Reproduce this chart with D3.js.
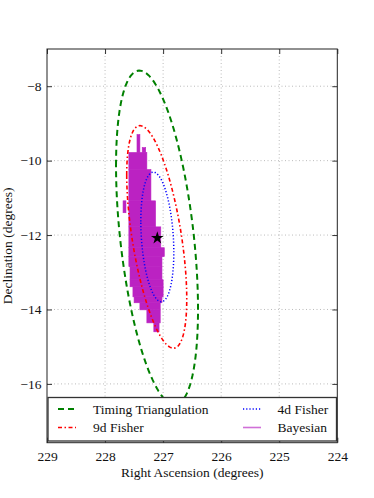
<!DOCTYPE html>
<html>
<head>
<meta charset="utf-8">
<script src="https://cdn.jsdelivr.net/npm/d3@7"></script>
<style>
  body { margin: 0; background: #fff; }
  text { font-family: "Liberation Serif", "DejaVu Serif", serif; }
</style>
</head>
<body>
<div id="chart"></div>
<script>
const raTicks = [229, 228, 227, 226, 225, 224];
const decTicks = [-8, -10, -12, -14, -16];

// true source position
const sourceRa = 227.10;
const sourceDec = -12.08;

// error ellipses: centre, half extents along RA / Dec, correlation
const ellipseNames = ["Timing Triangulation", "9d Fisher", "4d Fisher"];
const ellipseRa0 = [227.105, 227.11, 227.10];
const ellipseDec0 = [-12.07, -12.05, -12.05];
const ellipseRaHalf = [0.706, 0.517, 0.284];
const ellipseDecHalf = [4.49, 2.99, 1.74];
const ellipseRho = [0.43, 0.557, 0.24];
const ellipseColors = ["#008000", "#ff0000", "#0000ff"];
const ellipseDash = ["6,4", "4,2.5,1.5,2.5", "1.2,2"];
const ellipseWidth = [2, 1.6, 1.5];

// Bayesian posterior region, blocky bins (dec high/low, ra high/low)
const bayesDecHi = [-9.30, -9.65, -9.78, -10.24, -11.08, -11.08, -11.78, -12.34, -12.58, -12.85, -13.20, -13.39, -13.66, -13.82, -14.01, -14.36];
const bayesDecLo = [-9.78, -9.78, -10.24, -11.08, -11.40, -11.78, -12.34, -12.58, -12.85, -13.20, -13.39, -13.66, -13.82, -14.01, -14.36, -14.60];
const bayesRaHi = [227.45, 227.36, 227.59, 227.59, 227.69, 227.59, 227.59, 227.59, 227.59, 227.57, 227.57, 227.52, 227.50, 227.40, 227.28, 227.16];
const bayesRaLo = [227.40, 227.30, 227.28, 227.21, 227.64, 227.13, 227.04, 226.98, 227.02, 227.02, 227.00, 227.00, 227.02, 227.05, 227.05, 227.07];
const bayesColor = "#bb22c2";

const width = 374, height = 498;
const plotLeft = 47, plotRight = 337.3, plotTop = 49, plotBottom = 442.7;

const x = d3.scaleLinear().domain([229, 224]).range([plotLeft, plotRight]);
const y = d3.scaleLinear().domain([-7, -17.58]).range([plotTop, plotBottom]);

const svg = d3.select("#chart").append("svg")
    .attr("width", width)
    .attr("height", height);

svg.append("defs").append("clipPath")
    .attr("id", "plot-clip")
    .append("rect")
    .attr("x", plotLeft).attr("y", plotTop)
    .attr("width", plotRight - plotLeft).attr("height", plotBottom - plotTop);

// grid
const grid = svg.append("g")
    .attr("stroke", "#aaa")
    .attr("stroke-width", 0.8)
    .attr("stroke-dasharray", "1,2.5");
grid.selectAll("line.gx")
    .data(raTicks.slice(1, -1))
    .enter().append("line")
    .attr("x1", d => x(d)).attr("x2", d => x(d))
    .attr("y1", plotTop).attr("y2", plotBottom);
grid.selectAll("line.gy")
    .data(decTicks)
    .enter().append("line")
    .attr("x1", plotLeft).attr("x2", plotRight)
    .attr("y1", d => y(d)).attr("y2", d => y(d));

const plot = svg.append("g").attr("clip-path", "url(#plot-clip)");

// Bayesian bins
const bins = bayesDecHi.map((d, i) => ({
    decHi: d, decLo: bayesDecLo[i], raHi: bayesRaHi[i], raLo: bayesRaLo[i]
}));
plot.append("g")
    .selectAll("rect")
    .data(bins)
    .enter().append("rect")
    .attr("x", d => x(d.raHi))
    .attr("y", d => y(d.decHi))
    .attr("width", d => x(d.raLo) - x(d.raHi))
    .attr("height", d => y(d.decLo) - y(d.decHi))
    .attr("fill", bayesColor)
    .attr("stroke", bayesColor)
    .attr("stroke-width", 0.6);

// ellipses
const line = d3.line().x(d => x(d[0])).y(d => y(d[1]));
const angles = d3.range(0, 361, 2).map(a => a * Math.PI / 180);

ellipseNames.forEach((name, i) => {
    const r = ellipseRho[i];
    const pts = angles.map(t => [
        ellipseRa0[i] + ellipseRaHalf[i] * Math.cos(t),
        ellipseDec0[i] + ellipseDecHalf[i] * (r * Math.cos(t) + Math.sqrt(1 - r * r) * Math.sin(t))
    ]);
    plot.append("path")
        .attr("d", line(pts))
        .attr("fill", "none")
        .attr("stroke", ellipseColors[i])
        .attr("stroke-width", ellipseWidth[i])
        .attr("stroke-dasharray", ellipseDash[i]);
});

// true position
plot.append("path")
    .attr("d", d3.symbol(d3.symbolStar, 50)())
    .attr("transform", `translate(${x(sourceRa)},${y(sourceDec)})`)
    .attr("fill", "#000");

// axes with inward ticks
svg.append("g")
    .attr("transform", `translate(0,${plotBottom})`)
    .call(d3.axisBottom(x).tickValues(raTicks).tickFormat(d3.format("d")).tickSize(-5).tickPadding(9));
svg.append("g")
    .attr("transform", `translate(${plotLeft},0)`)
    .call(d3.axisLeft(y).tickValues(decTicks).tickSize(-5).tickPadding(5.5));
svg.append("g")
    .attr("transform", `translate(0,${plotTop})`)
    .call(d3.axisTop(x).tickValues(raTicks).tickSize(-5).tickFormat(""));
svg.append("g")
    .attr("transform", `translate(${plotRight},0)`)
    .call(d3.axisRight(y).tickValues(decTicks).tickSize(-5).tickFormat(""));

svg.selectAll(".domain").remove();
svg.selectAll(".tick line").attr("stroke", "#333");
svg.selectAll(".tick text")
    .attr("font-family", "Liberation Serif, serif")
    .attr("font-size", 13.5)
    .attr("fill", "#111");

// frame
svg.append("rect")
    .attr("x", plotLeft).attr("y", plotTop)
    .attr("width", plotRight - plotLeft).attr("height", plotBottom - plotTop)
    .attr("fill", "none")
    .attr("stroke", "#222")
    .attr("stroke-width", 1);

// axis labels
svg.append("text")
    .attr("x", (plotLeft + plotRight) / 2)
    .attr("y", 477)
    .attr("text-anchor", "middle")
    .attr("font-size", 13.5)
    .attr("fill", "#111")
    .text("Right Ascension (degrees)");
svg.append("text")
    .attr("transform", `translate(12,${(plotTop + plotBottom) / 2}) rotate(-90)`)
    .attr("text-anchor", "middle")
    .attr("font-size", 13.5)
    .attr("fill", "#111")
    .text("Declination (degrees)");

// legend
const legend = svg.append("g");
legend.append("rect")
    .attr("x", 48).attr("y", 397.5)
    .attr("width", 288.5).attr("height", 43.5)
    .attr("fill", "#fff")
    .attr("stroke", "#333")
    .attr("stroke-width", 1.3);

const legendItems = [
    { label: ellipseNames[0], color: ellipseColors[0], dash: ellipseDash[0], w: ellipseWidth[0], lx: 58, tx: 93, cy: 409 },
    { label: ellipseNames[1], color: ellipseColors[1], dash: ellipseDash[1], w: ellipseWidth[1], lx: 58, tx: 93, cy: 427.5 },
    { label: ellipseNames[2], color: ellipseColors[2], dash: ellipseDash[2], w: ellipseWidth[2], lx: 243, tx: 277.5, cy: 409 },
    { label: "Bayesian", color: "#d070d8", dash: null, w: 1.6, lx: 243, tx: 277.5, cy: 427.5 }
];
const li = legend.selectAll("g.item")
    .data(legendItems)
    .enter().append("g");
li.append("line")
    .attr("x1", d => d.lx).attr("x2", d => d.lx + 18)
    .attr("y1", d => d.cy).attr("y2", d => d.cy)
    .attr("stroke", d => d.color)
    .attr("stroke-width", d => d.w)
    .attr("stroke-dasharray", d => d.dash);
li.append("text")
    .attr("x", d => d.tx)
    .attr("y", d => d.cy)
    .attr("dy", "0.35em")
    .attr("font-size", 13.5)
    .attr("fill", "#111")
    .text(d => d.label);
</script>
</body>
</html>
